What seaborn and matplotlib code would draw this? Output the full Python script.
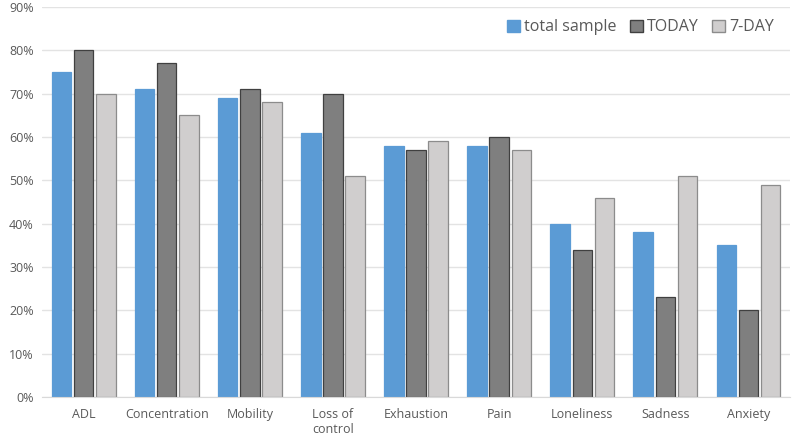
import pandas as pd
import matplotlib
matplotlib.use('Agg')
import matplotlib.pyplot as plt
import seaborn as sns
from matplotlib.ticker import PercentFormatter

categories = ['ADL', 'Concentration', 'Mobility', 'Loss of\ncontrol', 'Exhaustion',
              'Pain', 'Loneliness', 'Sadness', 'Anxiety']
total_sample = [75, 71, 69, 61, 58, 58, 40, 38, 35]
today = [80, 77, 71, 70, 57, 60, 34, 23, 20]
seven_day = [70, 65, 68, 51, 59, 57, 46, 51, 49]
series = ['total sample', 'TODAY', '7-DAY']

df = pd.DataFrame({
    'cat': categories * 3,
    'val': total_sample + today + seven_day,
    'series': [s for s in series for _ in categories],
})

colors = ['#5B9BD5', '#7F7F7F', '#D0CECE']
edges = ['#5B9BD5', '#404040', '#8C8C8C']

sns.set_style('white')
plt.rcParams['font.family'] = ['Open Sans', 'DejaVu Sans']

fig = plt.figure(figsize=(7.94, 4.38), dpi=100)
ax = fig.add_axes([0.053, 0.094, 0.942, 0.89])
sns.barplot(data=df, x='cat', y='val', hue='series', palette=colors,
            saturation=1, width=0.8, gap=0.12, ax=ax)

for cont, ec in zip(ax.containers, edges):
    for p in cont:
        p.set_edgecolor(ec)
        p.set_linewidth(0.9)

ax.set_ylim(0, 90)
ax.set_yticks(range(0, 91, 10))
ax.yaxis.set_major_formatter(PercentFormatter(decimals=0))
ax.grid(axis='y', color='#E3E3E3', linewidth=1)
ax.set_axisbelow(True)
for s in ['top', 'right', 'left']:
    ax.spines[s].set_visible(False)
ax.spines['bottom'].set_color('#D9D9D9')
ax.set_xlabel('')
ax.set_ylabel('')
ax.tick_params(axis='both', length=0, labelsize=9, colors='#595959', pad=8)
ax.tick_params(axis='y', pad=6)
ax.set_xlim(-0.5, len(categories) - 0.5)

leg = ax.legend(loc='upper right', ncol=3, frameon=False, fontsize=11.5,
                handlelength=0.8, handleheight=0.8, handletextpad=0.3,
                columnspacing=0.8, bbox_to_anchor=(0.998, 1.005))
for t in leg.get_texts():
    t.set_color('#595959')
for h, ec in zip(leg.legend_handles, edges):
    h.set_edgecolor(ec)

fig.savefig('out.png', dpi=100)
